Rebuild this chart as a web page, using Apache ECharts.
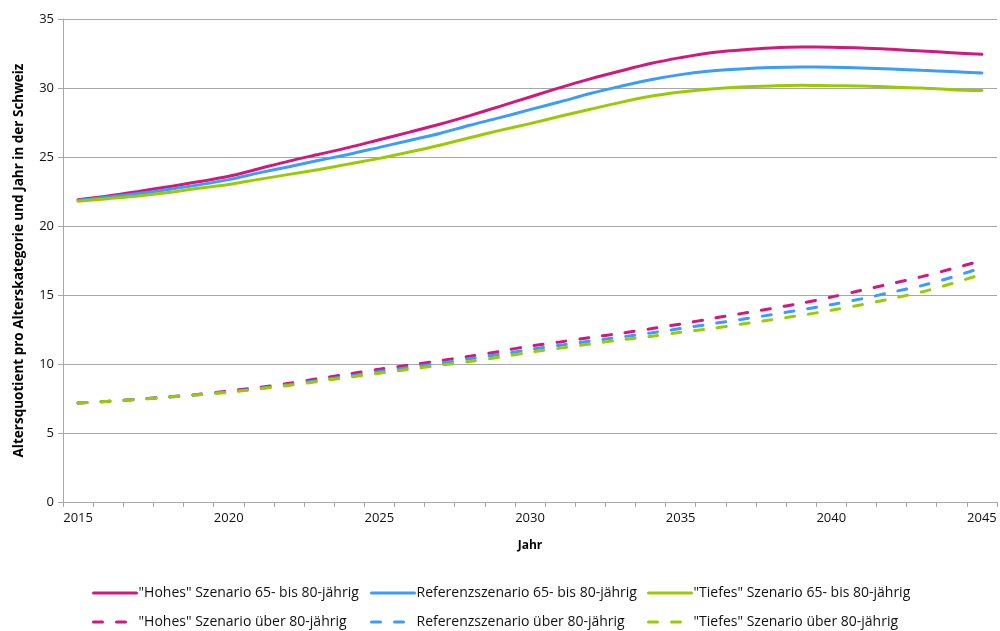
<!DOCTYPE html>
<html>
<head>
<meta charset="utf-8">
<script src="https://cdn.jsdelivr.net/npm/echarts@6/dist/echarts.min.js"></script>
<style>
    html, body { margin: 0; padding: 0; background: #fff; }
    #chart { width: 1000px; height: 631px; }
</style>
</head>
<body>
<div id="chart"></div>
<script>
    // Jahre 2015 - 2045
    var years = [];
    for (var y = 2015; y <= 2045; y++) years.push(String(y));

    // 65- bis 80-jährig
    var hohes65 = [21.9, 22.17, 22.5, 22.85, 23.2, 23.6, 24.15, 24.7, 25.2, 25.7, 26.25, 26.8, 27.37, 28.0, 28.67, 29.35,
        30.03, 30.66, 31.23, 31.77, 32.2, 32.56, 32.75, 32.9, 32.97, 32.95, 32.9, 32.8, 32.68, 32.56, 32.44];
    var referenz65 = [21.85, 22.1, 22.35, 22.65, 22.98, 23.36, 23.85, 24.3, 24.76, 25.2, 25.7, 26.2, 26.7, 27.3, 27.85, 28.43,
        29.0, 29.6, 30.12, 30.6, 30.97, 31.23, 31.38, 31.48, 31.52, 31.5, 31.45, 31.38, 31.28, 31.19, 31.09];
    var tiefes65 = [21.8, 21.98, 22.17, 22.42, 22.73, 23.0, 23.38, 23.74, 24.1, 24.5, 24.9, 25.36, 25.85, 26.4, 26.93, 27.42,
        27.95, 28.46, 28.96, 29.4, 29.71, 29.93, 30.07, 30.15, 30.2, 30.17, 30.15, 30.07, 30.0, 29.88, 29.81];

    // über 80-jährig
    var hohes80 = [7.17, 7.3, 7.45, 7.62, 7.8, 8.05, 8.3, 8.6, 8.95, 9.28, 9.62, 9.92, 10.24, 10.56, 10.92, 11.3,
        11.6, 11.92, 12.22, 12.55, 12.9, 13.28, 13.65, 14.02, 14.4, 14.85, 15.34, 15.83, 16.33, 16.9, 17.5];
    var referenz80 = [7.17, 7.3, 7.44, 7.6, 7.78, 7.98, 8.22, 8.5, 8.82, 9.12, 9.45, 9.75, 10.05, 10.38, 10.7, 11.05,
        11.36, 11.66, 11.95, 12.25, 12.57, 12.9, 13.23, 13.57, 13.92, 14.3, 14.72, 15.2, 15.68, 16.28, 16.99];
    var tiefes80 = [7.17, 7.3, 7.44, 7.6, 7.78, 7.95, 8.2, 8.45, 8.75, 9.04, 9.33, 9.62, 9.9, 10.18, 10.5, 10.85,
        11.15, 11.45, 11.75, 12.0, 12.3, 12.56, 12.88, 13.2, 13.53, 13.89, 14.3, 14.74, 15.22, 15.83, 16.5];

    var yTicks = [0, 5, 10, 15, 20, 25, 30, 35];

    var cMagenta = '#D4177E',
        cBlau = '#3A9DF7',
        cGruen = '#99CC00';
    var gridGrau = '#A8A8A8';
    var fontAchse = 'Open Sans';

    function linie(name, data, color, dashed) {
        return {
            name: name,
            type: 'line',
            data: data,
            smooth: 0.3,
            symbol: 'none',
            color: color,
            lineStyle: {
                width: 3,
                color: color,
                type: dashed ? [9, 14] : 'solid',
                cap: 'round'
            },
            emphasis: { disabled: true }
        };
    }

    function legende(left, names) {
        return {
            orient: 'vertical',
            left: left,
            top: 586,
            padding: 0,
            itemWidth: 43,
            itemHeight: 14,
            itemGap: 15,
            data: names,
            itemStyle: { opacity: 0 },
            lineStyle: { width: 3 },
            textStyle: {
                fontFamily: fontAchse,
                fontSize: 14,
                color: '#111',
                padding: [0, 0, 0, -3]
            }
        };
    }

    var option = {
        animation: false,
        grid: {
            left: 63,
            right: 3,
            top: 19,
            bottom: 129
        },
        legend: [
            legende(92, ['"Hohes" Szenario 65- bis 80-jährig', '"Hohes" Szenario über 80-jährig']),
            legende(370, ['Referenzszenario 65- bis 80-jährig', 'Referenzszenario über 80-jährig']),
            legende(647, ['"Tiefes" Szenario 65- bis 80-jährig', '"Tiefes" Szenario über 80-jährig'])
        ],
        xAxis: {
            type: 'category',
            data: years,
            boundaryGap: true,
            name: 'Jahr',
            nameLocation: 'middle',
            nameGap: 38,
            nameTextStyle: {
                fontFamily: fontAchse,
                fontSize: 12,
                fontWeight: 'bold',
                color: '#000'
            },
            axisLine: { lineStyle: { color: gridGrau, width: 1 } },
            axisTick: {
                show: true,
                interval: 0,
                length: 5,
                lineStyle: { color: gridGrau }
            },
            axisLabel: {
                interval: 4,
                margin: 10,
                fontFamily: fontAchse,
                fontSize: 13,
                color: '#111'
            },
            splitLine: { show: false }
        },
        yAxis: {
            type: 'value',
            min: yTicks[0],
            max: yTicks[yTicks.length - 1],
            interval: 5,
            name: 'Altersquotient pro Alterskategorie und Jahr in der Schweiz',
            nameLocation: 'middle',
            nameGap: 37,
            nameTextStyle: {
                fontFamily: fontAchse,
                fontSize: 13.5,
                fontWeight: 'bold',
                color: '#000'
            },
            axisLine: { show: true, lineStyle: { color: gridGrau, width: 1 } },
            axisTick: { show: true, length: 5, lineStyle: { color: gridGrau } },
            axisLabel: {
                margin: 9,
                fontFamily: fontAchse,
                fontSize: 13,
                color: '#111'
            },
            splitLine: { lineStyle: { color: gridGrau, width: 1 } }
        },
        series: [
            linie('"Hohes" Szenario 65- bis 80-jährig', hohes65, cMagenta, false),
            linie('Referenzszenario 65- bis 80-jährig', referenz65, cBlau, false),
            linie('"Tiefes" Szenario 65- bis 80-jährig', tiefes65, cGruen, false),
            linie('"Hohes" Szenario über 80-jährig', hohes80, cMagenta, true),
            linie('Referenzszenario über 80-jährig', referenz80, cBlau, true),
            linie('"Tiefes" Szenario über 80-jährig', tiefes80, cGruen, true)
        ]
    };

    var myChart = echarts.init(document.getElementById('chart'));
    myChart.setOption(option);
</script>
</body>
</html>
